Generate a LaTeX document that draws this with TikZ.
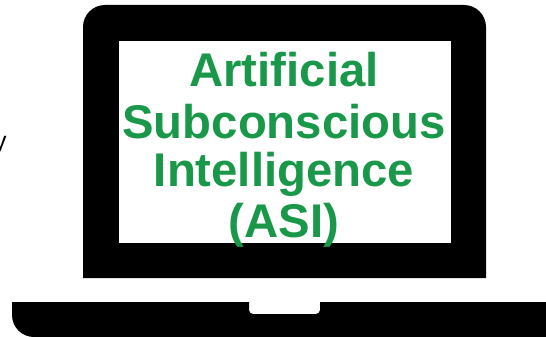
\documentclass[tikz,border=0pt]{standalone}
\usepackage{fontspec}
\setmainfont{Liberation Sans}
\definecolor{asigreen}{RGB}{26,152,74}
\tikzset{
  laptop/.style={fill=black,draw=none},
  screenpanel/.style={fill=white,draw=none},
  asiline/.style={text=asigreen,font=\fontsize{47.3}{50}\selectfont\bfseries,inner sep=0pt,anchor=base}
}
\begin{document}
\begin{tikzpicture}[x=1pt,y=-1pt]
\useasboundingbox (0,0) rectangle (546,337);
\clip (0,0) rectangle (546,337);
\fill[laptop] (83,278) -- (83,27) arc[start angle=180,end angle=90,x radius=22,y radius=-22] -- (464,5) arc[start angle=90,end angle=0,x radius=22,y radius=-22] -- (486,278) -- cycle;
\fill[screenpanel] (119,41) rectangle (451,243);
\fill[laptop] (12,302) -- (249,302) -- (249,310) arc[start angle=180,end angle=270,x radius=4,y radius=-4] -- (316,314) arc[start angle=270,end angle=360,x radius=4,y radius=-4] -- (320,302) -- (546,302) -- (546,337) -- (34,337) arc[start angle=270,end angle=180,x radius=22,y radius=-22] -- cycle;
\node[asiline] (l1) at (284,86) {Artificial};
\node[asiline] (l2) at (284,138) {Subconscious};
\node[asiline] (l3) at (284,186) {Intelligence};
\node[asiline] (l4) at (284,237.5) {(ASI)};
\node[anchor=base east,inner sep=0pt,text=black,font=\fontsize{25}{25}\selectfont] (y1) at (6.8,149) {y};
\end{tikzpicture}
\end{document}
